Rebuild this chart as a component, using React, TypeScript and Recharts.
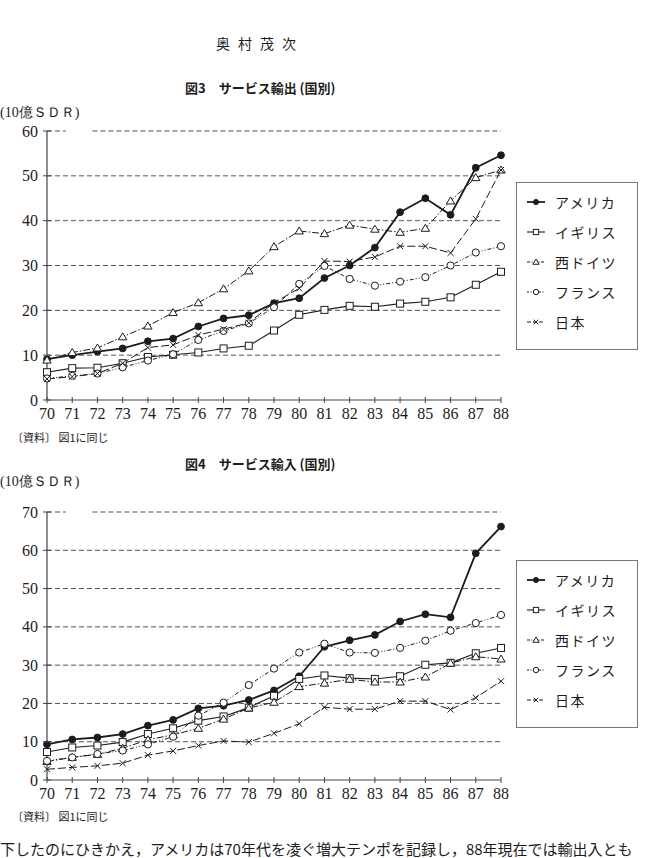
import React from 'react';
import { LineChart, Line, XAxis, YAxis, ReferenceLine, Legend } from 'recharts';

// 1970–88, billions of SDR
const years = [70, 71, 72, 73, 74, 75, 76, 77, 78, 79, 80, 81, 82, 83, 84, 85, 86, 87, 88];

const exportUS = [9.1, 10.0, 10.8, 11.5, 13.1, 13.7, 16.4, 18.2, 18.9, 21.6, 22.7, 27.2, 30.0, 34.0, 41.9, 45.0, 41.3, 51.8, 54.6];
const exportUK = [6.2, 7.1, 7.2, 8.2, 9.6, 10.1, 10.6, 11.5, 12.1, 15.5, 19.0, 20.1, 21.0, 20.8, 21.5, 21.9, 22.9, 25.7, 28.6];
const exportDE = [8.9, 10.6, 11.6, 14.1, 16.5, 19.5, 21.7, 24.8, 28.8, 34.2, 37.7, 37.1, 39.0, 38.1, 37.4, 38.3, 44.4, 49.6, 51.3];
const exportFR = [4.8, 5.4, 5.9, 7.3, 8.8, 10.2, 13.4, 15.4, 17.1, 20.7, 25.9, 29.9, 27.0, 25.5, 26.4, 27.4, 30.0, 32.9, 34.3];
const exportJP = [4.7, 5.2, 5.9, 8.2, 11.7, 12.3, 14.5, 15.8, 17.2, 21.7, 24.9, 31.0, 30.9, 31.9, 34.3, 34.3, 32.8, 40.4, 51.3];

const importUS = [9.3, 10.6, 11.1, 12.0, 14.2, 15.7, 18.7, 19.4, 20.9, 23.4, 27.1, 34.8, 36.5, 37.9, 41.4, 43.3, 42.5, 59.2, 66.2];
const importUK = [7.3, 8.5, 9.0, 9.9, 12.0, 13.5, 15.5, 16.6, 18.9, 22.0, 26.4, 27.3, 26.6, 26.4, 27.1, 30.1, 30.6, 33.1, 34.5];
const importDE = [4.8, 5.9, 6.7, 8.3, 10.5, 11.8, 13.5, 15.9, 18.8, 20.3, 24.4, 25.3, 26.3, 25.6, 25.6, 26.9, 30.5, 32.2, 31.6];
const importFR = [5.0, 5.9, 6.8, 7.7, 9.3, 11.3, 16.8, 20.2, 24.8, 29.1, 33.3, 35.6, 33.3, 33.2, 34.5, 36.4, 39.0, 41.0, 43.1];
const importJP = [2.8, 3.3, 3.7, 4.4, 6.5, 7.6, 9.0, 10.2, 9.9, 12.2, 14.7, 19.0, 18.5, 18.5, 20.6, 20.6, 18.4, 21.5, 25.8];

const exportTicks = [0, 10, 20, 30, 40, 50, 60];
const importTicks = [0, 10, 20, 30, 40, 50, 60, 70];

const countries = ['アメリカ', 'イギリス', '西ドイツ', 'フランス', '日本'];

const INK = '#1c1c1c';
const SERIF = '"Liberation Serif", "DejaVu Serif", serif';
const JP = '"Noto Sans CJK JP", "Noto Sans", sans-serif';

type Shape = 'disc' | 'square' | 'triangle' | 'circle' | 'cross';

const series: { key: string; shape: Shape; dash?: string; legendDash?: string; width: number }[] = [
  { key: 'us', shape: 'disc', width: 1.8 },
  { key: 'uk', shape: 'square', width: 1.1 },
  { key: 'de', shape: 'triangle', dash: '7 2 1.5 2', legendDash: '3 1.5 1 1.5', width: 1 },
  { key: 'fr', shape: 'circle', dash: '4 2 1 2 1 2', legendDash: '2 1.5 1 1.5', width: 1 },
  { key: 'jp', shape: 'cross', dash: '8 3', legendDash: '4 2', width: 1 },
];

const buildRows = (us: number[], uk: number[], de: number[], fr: number[], jp: number[]) =>
  years.map((year, i) => ({ year, us: us[i], uk: uk[i], de: de[i], fr: fr[i], jp: jp[i] }));

const exportRows = buildRows(exportUS, exportUK, exportDE, exportFR, exportJP);
const importRows = buildRows(importUS, importUK, importDE, importFR, importJP);

function Marker({ cx, cy, shape, scale = 1 }: { cx: number; cy: number; shape: Shape; scale?: number }) {
  if (cx == null || cy == null) return null;
  const k = scale;
  switch (shape) {
    case 'disc':
      return <circle cx={cx} cy={cy} r={3.4 * k} fill={INK} stroke={INK} />;
    case 'square':
      return <rect x={cx - 3.5 * k} y={cy - 3.5 * k} width={7 * k} height={7 * k} fill="#fff" stroke={INK} strokeWidth={1} />;
    case 'triangle':
      return (
        <polygon
          points={`${cx},${cy - 4 * k} ${cx + 4.2 * k},${cy + 3 * k} ${cx - 4.2 * k},${cy + 3 * k}`}
          fill="#fff"
          stroke={INK}
          strokeWidth={1}
        />
      );
    case 'circle':
      return <circle cx={cx} cy={cy} r={3.6 * k} fill="#fff" stroke={INK} strokeWidth={1} />;
    case 'cross':
      return (
        <g stroke={INK} strokeWidth={1}>
          <line x1={cx - 3 * k} y1={cy - 3 * k} x2={cx + 3 * k} y2={cy + 3 * k} />
          <line x1={cx - 3 * k} y1={cy + 3 * k} x2={cx + 3 * k} y2={cy - 3 * k} />
        </g>
      );
  }
  return null;
}

const makeDot = (shape: Shape) => (props: any) =>
  <Marker key={`${props.dataKey}-${props.index}`} cx={props.cx} cy={props.cy} shape={shape} />;

// tickSize 4 + tickMargin 4: the axis line sits 8px above the label anchor
const XTick = (props: any) => {
  const { x, y, payload } = props;
  const axisY = y - 8;
  return (
    <g>
      <line x1={x} x2={x} y1={axisY - 3} y2={axisY + 3} stroke="#444" strokeWidth={1} />
      <text x={x} y={axisY + 19} textAnchor="middle" fontFamily={SERIF} fontSize={16} fill={INK}>
        {payload.value}
      </text>
    </g>
  );
};

const YTick = (props: any) => {
  const { x, y, payload } = props;
  const axisX = x + 9;
  return (
    <g>
      <line x1={axisX - 4} x2={axisX + 4} y1={y} y2={y} stroke="#444" strokeWidth={1} />
      <text x={x} y={y} dy="0.35em" textAnchor="end" fontFamily={SERIF} fontSize={16} fill={INK}>
        {payload.value}
      </text>
    </g>
  );
};

const seriesIndex = (key: string) => series.findIndex((d) => d.key === key);

const LegendBox = (props: any) => {
  const items = [...(props.payload || [])].sort((a: any, b: any) => seriesIndex(a.dataKey) - seriesIndex(b.dataKey));
  return (
    <div
      style={{
        width: 122,
        height: 168,
        boxSizing: 'border-box',
        border: '1px solid #777',
        background: '#fff',
        paddingTop: 4,
      }}
    >
      {items.map((entry: any) => {
        const s = series[seriesIndex(entry.dataKey)];
        return (
          <div key={s.key} style={{ display: 'flex', alignItems: 'center', height: 30 }}>
            <svg width={30} height={14} style={{ marginLeft: 8 }}>
              <line x1={2} x2={20} y1={7} y2={7} stroke={INK} strokeWidth={s.width} strokeDasharray={s.legendDash} />
              <Marker cx={11} cy={7} shape={s.shape} scale={0.75} />
            </svg>
            <span style={{ fontFamily: JP, fontSize: 14, letterSpacing: 1.5, color: INK }}>{entry.value}</span>
          </div>
        );
      })}
    </div>
  );
};

function ServiceChart({
  rows,
  ticks,
  top,
  plotTop,
  legendTop,
}: {
  rows: any[];
  ticks: number[];
  top: number;
  plotTop: number;
  legendTop: number;
}) {
  const max = ticks[ticks.length - 1];
  return (
    <div style={{ position: 'absolute', left: 0, top }}>
      <LineChart width={651} height={310} data={rows} margin={{ top: plotTop, right: 150, bottom: 5, left: 0 }}>
        {ticks.slice(1, -1).map((t) => (
          <ReferenceLine key={t} y={t} stroke="#555" strokeDasharray="5 3" strokeWidth={1} />
        ))}
        {/* top gridline is broken near the axis */}
        <ReferenceLine segment={[{ x: 70, y: max }, { x: 70.75, y: max }]} stroke="#555" strokeDasharray="5 3" />
        <ReferenceLine segment={[{ x: 71.8, y: max }, { x: 88, y: max }]} stroke="#555" strokeDasharray="5 3" />
        <XAxis
          dataKey="year"
          type="number"
          domain={[70, 88]}
          ticks={years}
          interval={0}
          height={25}
          tickSize={4}
          tickMargin={4}
          tickLine={false}
          axisLine={{ stroke: '#444', strokeWidth: 1.2 }}
          tick={<XTick />}
        />
        <YAxis
          type="number"
          domain={[0, max]}
          ticks={ticks}
          interval={0}
          width={47}
          tickSize={4}
          tickMargin={5}
          tickLine={false}
          axisLine={{ stroke: '#444', strokeWidth: 1.2 }}
          tick={<YTick />}
        />
        {series.map((s, i) => (
          <Line
            key={s.key}
            dataKey={s.key}
            name={countries[i]}
            type="linear"
            stroke={INK}
            strokeWidth={s.width}
            strokeDasharray={s.dash}
            dot={makeDot(s.shape)}
            activeDot={false}
            isAnimationActive={false}
          />
        ))}
        <Legend
          layout="horizontal"
          verticalAlign="middle"
          align="center"
          content={<LegendBox />}
          wrapperStyle={{ left: 516, top: legendTop, width: 122, height: 168 }}
        />
      </LineChart>
    </div>
  );
}

const textBase: React.CSSProperties = { position: 'absolute', whiteSpace: 'nowrap', color: INK, lineHeight: 1 };

export default function App() {
  return (
    <div
      style={{
        position: 'absolute',
        left: 0,
        top: 0,
        width: 651,
        height: 858,
        overflow: 'hidden',
        background: '#fff',
      }}
    >
      <div style={{ ...textBase, left: 216, top: 36, fontFamily: JP, fontSize: 14, letterSpacing: 8 }}>奥村茂次</div>

      <div style={{ ...textBase, left: 185, top: 81, fontFamily: JP, fontSize: 13, fontWeight: 700 }}>
        図3　サービス輸出 (国別)
      </div>
      <div style={{ ...textBase, left: 0, top: 106, fontFamily: SERIF, fontSize: 14 }}>
        (10億ＳＤＲ)
      </div>
      <ServiceChart rows={exportRows} ticks={exportTicks} top={120} plotTop={11} legendTop={62} />
      <div style={{ ...textBase, left: 12, top: 432, fontFamily: JP, fontSize: 11 }}>〔資料〕 図1に同じ</div>

      <div style={{ ...textBase, left: 185, top: 457, fontFamily: JP, fontSize: 13, fontWeight: 700 }}>
        図4　サービス輸入 (国別)
      </div>
      <div style={{ ...textBase, left: 0, top: 475, fontFamily: SERIF, fontSize: 14 }}>
        (10億ＳＤＲ)
      </div>
      <ServiceChart rows={importRows} ticks={importTicks} top={500} plotTop={12} legendTop={60} />
      <div style={{ ...textBase, left: 12, top: 811, fontFamily: JP, fontSize: 11 }}>〔資料〕 図1に同じ</div>

      <div style={{ ...textBase, left: 0, top: 841, fontFamily: JP, fontSize: 15 }}>
        下したのにひきかえ，アメリカは70年代を凌ぐ増大テンポを記録し，88年現在では輸出入とも
      </div>
    </div>
  );
}
